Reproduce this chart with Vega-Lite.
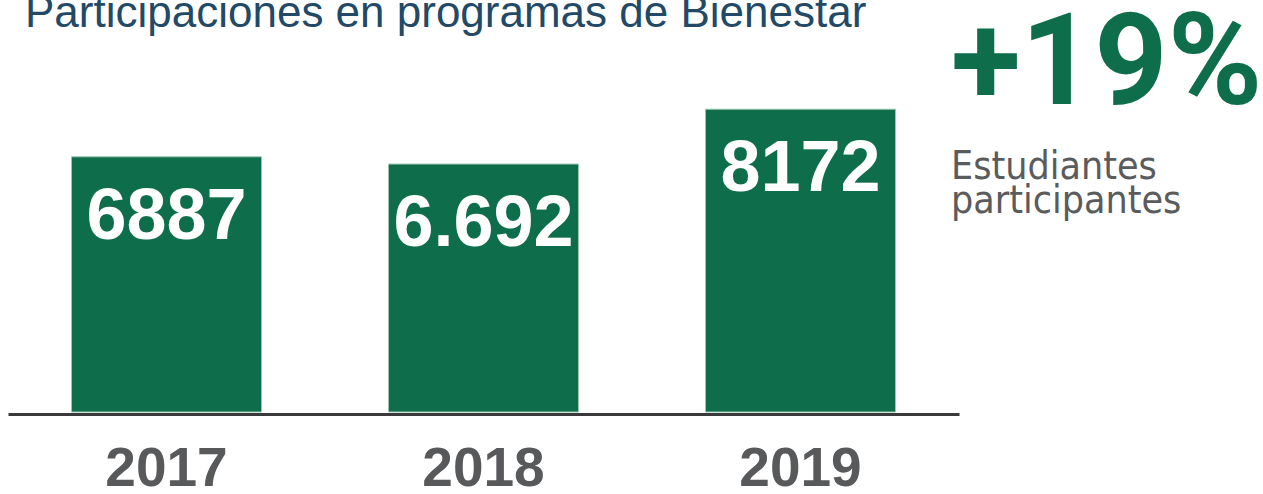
{
  "$schema": "https://vega.github.io/schema/vega-lite/v6.json",
  "background": "white",
  "padding": {"left": 8, "top": -8, "right": 0, "bottom": 0},
  "bounds": "flush",
  "spacing": 0,
  "config": {"view": {"stroke": null}},
  "hconcat": [
    {
      "width": 951,
      "height": 372,
      "title": {
        "text": "Participaciones en programas de Bienestar",
        "anchor": "start",
        "font": "Liberation Sans",
        "fontSize": 44,
        "fontWeight": "normal",
        "color": "#224a66",
        "dx": 17,
        "offset": 4
      },
      "data": {
        "values": [
          {"anio": "2017", "participaciones": 6887, "etiqueta": "6887"},
          {"anio": "2018", "participaciones": 6692, "etiqueta": "6.692"},
          {"anio": "2019", "participaciones": 8172, "etiqueta": "8172"}
        ]
      },
      "encoding": {
        "x": {
          "field": "anio",
          "type": "nominal",
          "sort": null,
          "scale": {"paddingInner": 0, "paddingOuter": 0},
          "axis": {
            "title": null,
            "labelAngle": 0,
            "domainColor": "#3a3a3c",
            "domainWidth": 3,
            "ticks": false,
            "tickSize": 0,
            "offset": 2,
            "labelPadding": 71,
            "labelBaseline": "alphabetic",
            "labelFont": "Liberation Sans",
            "labelFontSize": 55,
            "labelFontWeight": "bold",
            "labelColor": "#58595b"
          }
        },
        "y": {
          "field": "participaciones",
          "type": "quantitative",
          "scale": {"domain": [0, 10040], "nice": false, "zero": true},
          "axis": null
        }
      },
      "layer": [
        {
          "mark": {"type": "bar", "width": 190, "color": "#0e6d4b", "stroke": "#9cc6b1", "strokeWidth": 1}
        },
        {
          "mark": {
            "type": "text",
            "baseline": "alphabetic",
            "align": "center",
            "dy": 82,
            "font": "Liberation Sans",
            "fontSize": 72,
            "fontWeight": "bold",
            "color": "white"
          },
          "encoding": {"text": {"field": "etiqueta", "type": "nominal"}}
        }
      ]
    },
    {
      "width": 300,
      "height": 1,
      "data": {"values": [{"n": 1}]},
      "mark": {"type": "text", "text": ""},
      "title": {
        "text": "+19%",
        "orient": "bottom",
        "anchor": "start",
        "font": "Roboto",
        "fontSize": 128,
        "fontWeight": "bold",
        "color": "#0e6d4b",
        "subtitle": ["Estudiantes", "participantes"],
        "subtitleFont": "'DejaVu Sans Condensed', Roboto",
        "subtitleFontSize": 39,
        "subtitleFontWeight": "normal",
        "subtitleColor": "#5a5b5d",
        "subtitleLineHeight": 34,
        "subtitlePadding": 17,
        "offset": -43,
        "dx": -8
      }
    }
  ]
}
